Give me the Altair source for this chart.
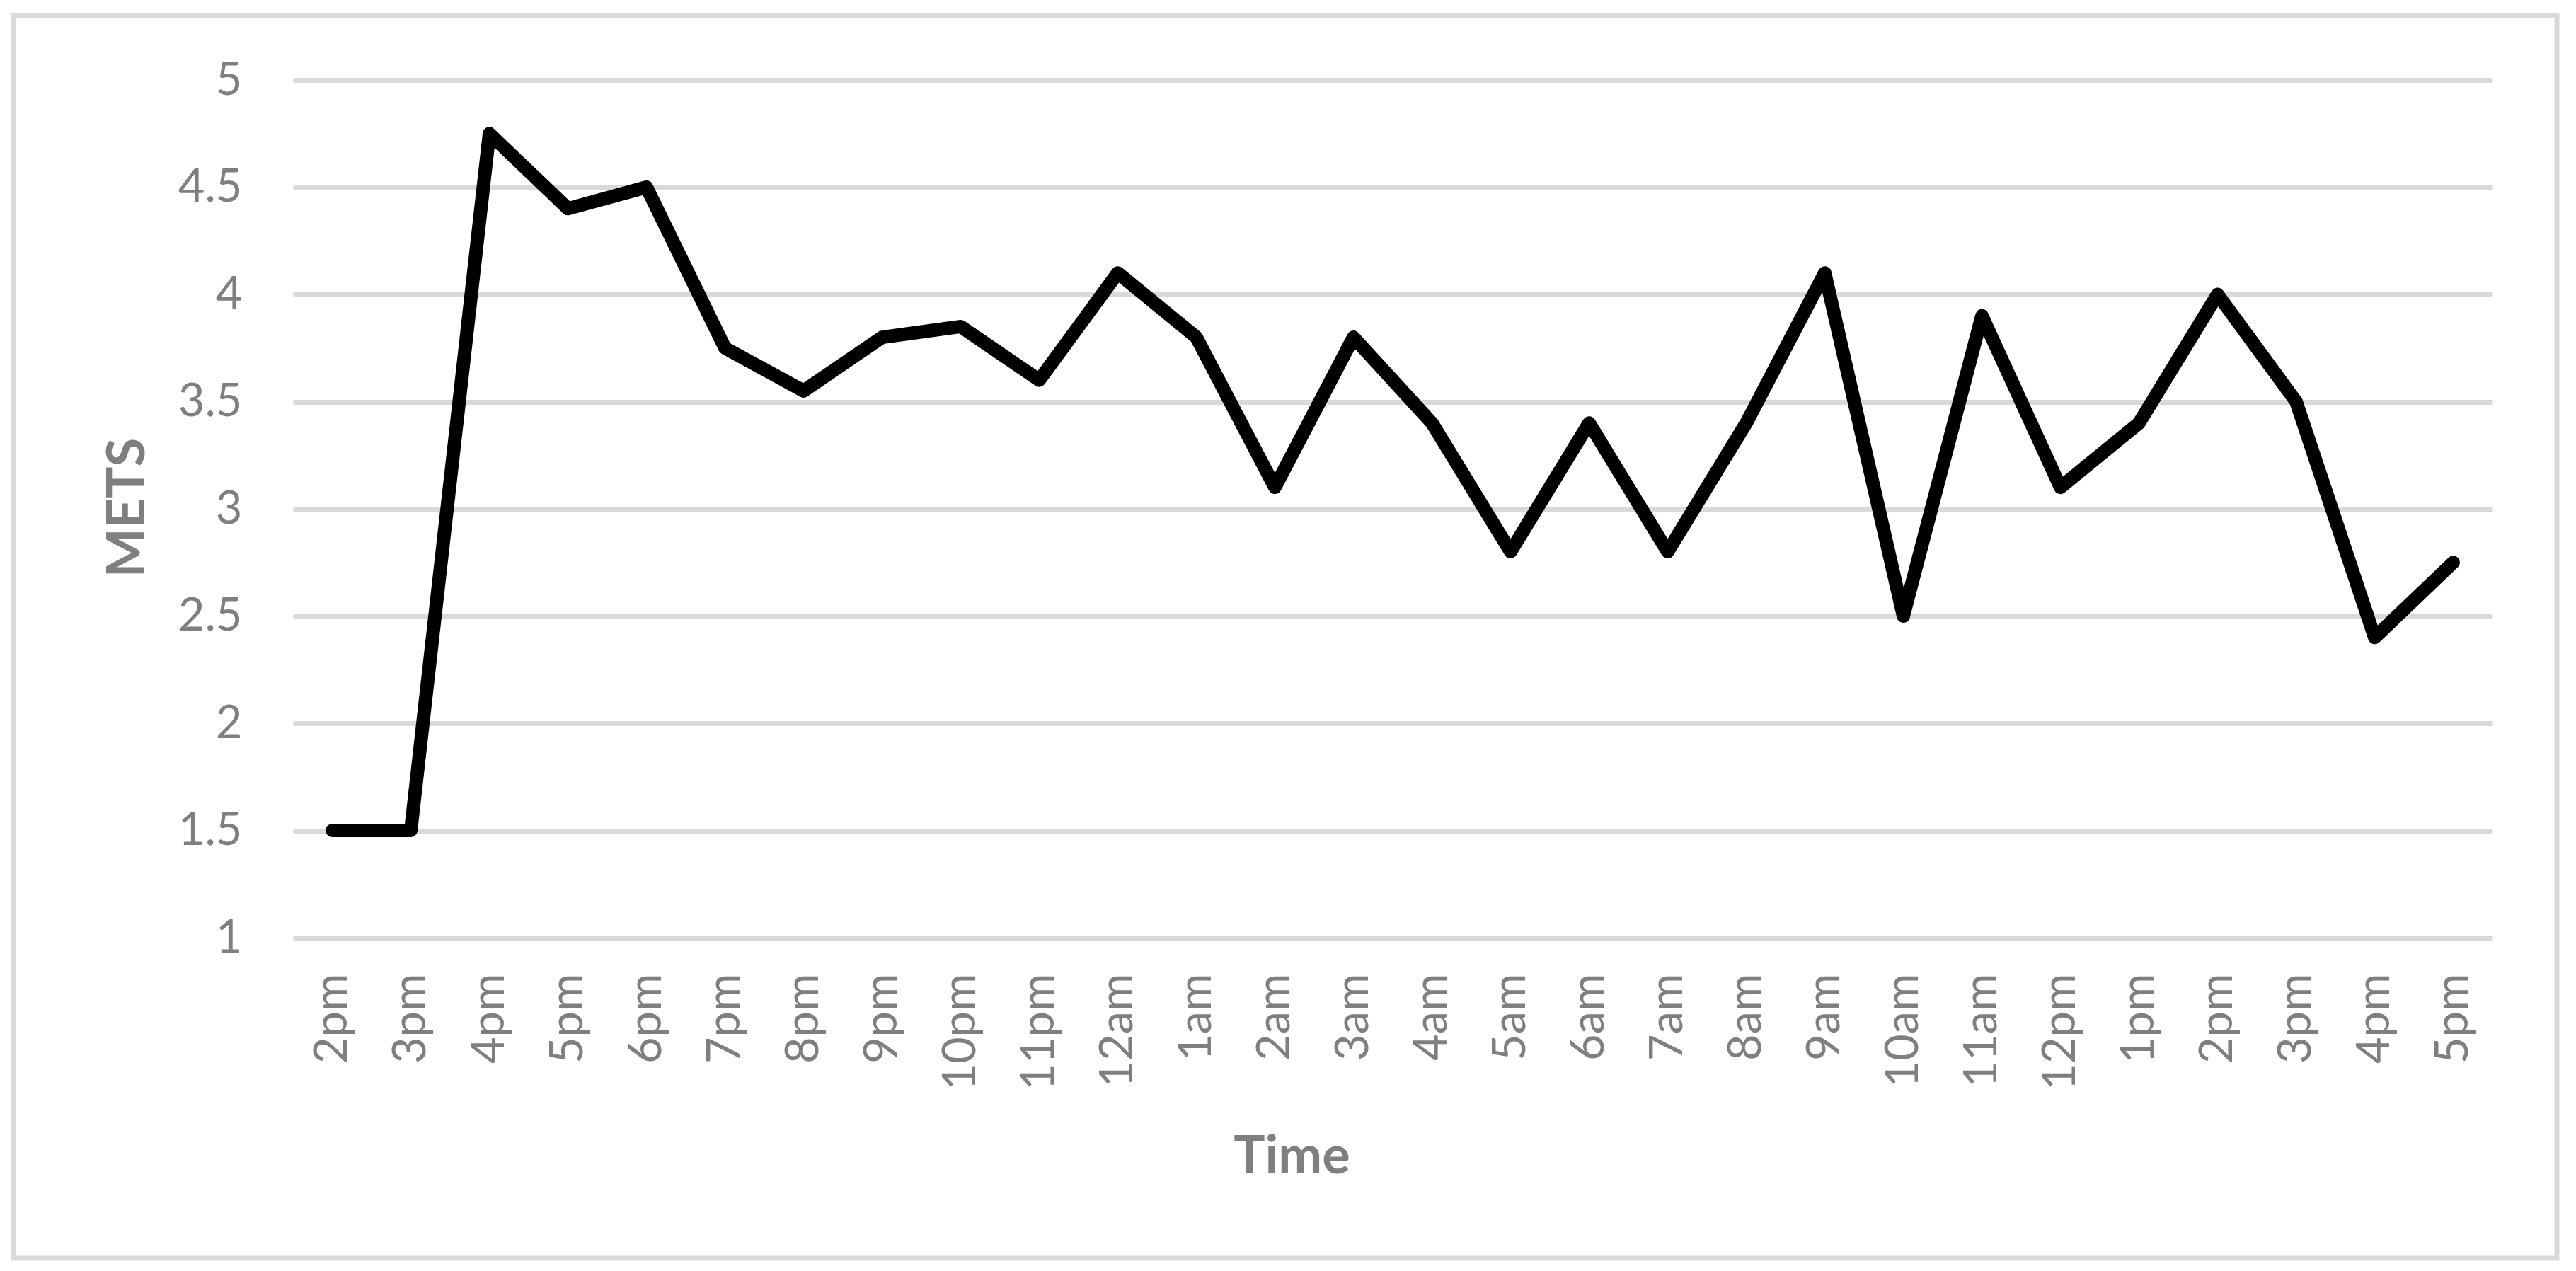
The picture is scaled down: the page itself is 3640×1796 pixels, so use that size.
import altair as alt
import pandas as pd
import json

# hourly readings, 2pm one day to 5pm the next
time_labels = ["2pm", "3pm", "4pm", "5pm", "6pm", "7pm", "8pm", "9pm", "10pm",
               "11pm", "12am", "1am", "2am", "3am", "4am", "5am", "6am", "7am",
               "8am", "9am", "10am", "11am", "12pm", "1pm", "2pm", "3pm", "4pm",
               "5pm"]
mets = [1.5, 1.5, 4.75, 4.4, 4.5, 3.75, 3.55, 3.8, 3.85, 3.6, 4.1, 3.8, 3.1,
        3.8, 3.4, 2.8, 3.4, 2.8, 3.4, 4.1, 2.5, 3.9, 3.1, 3.4, 4.0, 3.5, 2.4,
        2.75]
y_ticks = [1, 1.5, 2, 2.5, 3, 3.5, 4, 4.5, 5]

df = pd.DataFrame({"idx": list(range(len(mets))), "METS": mets})

GRID = "#d9d9d9"
TEXT = "#7f7f7f"
W, H = 3108, 1212

label_expr = json.dumps(time_labels) + "[datum.value]"

line = alt.Chart(df).mark_line(
    color="black", strokeWidth=19, strokeJoin="round", strokeCap="round"
).encode(
    x=alt.X("idx:O", scale=alt.Scale(paddingOuter=0.5),
            axis=alt.Axis(title="Time", labelExpr=label_expr, labelAngle=-90,
                          labelFontSize=65, labelColor=TEXT, labelPadding=50,
                          ticks=False, tickSize=0, domain=False, grid=False,
                          titleFontSize=74, titleFontWeight="bold",
                          titleColor=TEXT, titleX=1411, titleY=332,
                          titleBaseline="alphabetic", titleAlign="center")),
    y=alt.Y("METS:Q", scale=alt.Scale(domain=[1, 5], nice=False, zero=False),
            axis=alt.Axis(title="METS", values=y_ticks, format="~g",
                          labelFontSize=65, labelColor=TEXT, labelPadding=72,
                          ticks=False, tickSize=0, domain=False,
                          gridColor=GRID, gridWidth=7,
                          titleFontSize=74, titleFontWeight="bold",
                          titleColor=TEXT, titleX=-211, titleY=604,
                          titleAngle=-90, titleBaseline="alphabetic",
                          titleAlign="center")),
)

# light frame around the whole chart
frame = alt.Chart(pd.DataFrame({"k": [0]})).mark_rect(
    filled=False, stroke=GRID, strokeWidth=7, clip=False
).encode(
    x=alt.value(-395), x2=alt.value(3199),
    y=alt.value(-91), y2=alt.value(1665),
)

chart = alt.layer(frame, line).properties(
    width=W, height=H,
    autosize=alt.AutoSizeParams(type="none"),
    padding={"left": 406, "top": 105, "right": 100, "bottom": 465},
).configure(
    font="Lato",
).configure_view(
    stroke=None,
)

chart.save("out.html", embed_options={"renderer": "svg", "actions": False})
